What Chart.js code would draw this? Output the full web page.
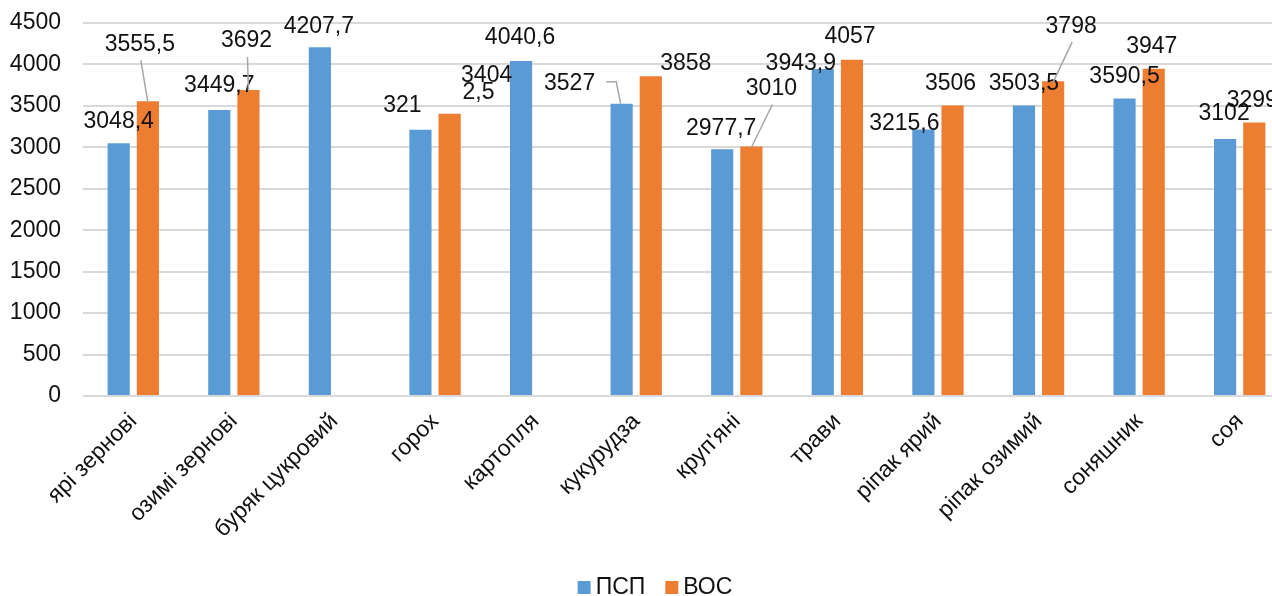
<!DOCTYPE html>
<html>
<head>
<meta charset="utf-8">
<script src="https://cdn.jsdelivr.net/npm/chart.js@4"></script>
<style>
    html, body { margin: 0; padding: 0; background: #fff; overflow: hidden; }
    #wrap { width: 1290px; height: 596px; }
</style>
</head>
<body>
<div id="wrap"><canvas id="grafico"></canvas></div>
<script>
// Datos del gráfico
const categorias = ["ярі зернові", "озимі зернові", "буряк цукровий", "горох", "картопля", "кукурудза",
                    "круп'яні", "трави", "ріпак ярий", "ріпак озимий", "соняшник", "соя"];
const valoresPSP = [3048.4, 3449.7, 4207.7, 3212.5, 4040.6, 3527, 2977.7, 3943.9, 3215.6, 3503.5, 3590.5, 3102];
const valoresVOC = [3555.5, 3692, null, 3404, null, 3858, 3010, 4057, 3506, 3798, 3947, 3299];
const ejeY = { min: 0, max: 4500, paso: 500 };

// Desplazamiento de las etiquetas respecto a la parte alta de cada barra (px)
const posPSP = [[0, -22], [0, -24], [-1, -21], [-18, -24], [-1, -23], [-52, -20],
                [-1, -21], [-22, -5], [-19, -6], [0, -22], [0, -22], [-1, -25]];
const posVOC = [[-8, -57], [-2, -49], null, [37, -38], null, [35, -13],
                [20, -58], [-2, -23], [-2, -22], [18, -55], [-2, -22], [-2, -22]];
// líneas guía: "recta" o "codo"
const guiaPSP = [null, null, null, null, null, "codo", null, null, null, null, null, null];
const guiaVOC = ["recta", "recta", null, null, null, null, "recta", null, null, "recta", null, null];
// la etiqueta de горох (ПСП) aparece partida en dos trozos
const cortePSP = { 3: { en: 3, dx: 58, dy: -37 } };

const fuente = "'Liberation Sans', Arial, sans-serif";
const colorTexto = "#111";
const centroLeyenda = 655;

const formato = v => String(v).replace(".", ",");

const etiquetas = {
    id: "etiquetas",
    afterDatasetsDraw(chart) {
        const ctx = chart.ctx;
        const config = [
            { pos: posPSP, guia: guiaPSP, corte: cortePSP },
            { pos: posVOC, guia: guiaVOC, corte: {} }
        ];
        ctx.save();
        ctx.font = "23px " + fuente;
        ctx.textAlign = "center";
        ctx.textBaseline = "middle";
        chart.data.datasets.forEach((ds, d) => {
            const meta = chart.getDatasetMeta(d);
            const cfg = config[d];
            meta.data.forEach((barra, i) => {
                const v = ds.data[i];
                if (v === null || !cfg.pos[i]) return;
                const tx = barra.x + cfg.pos[i][0];
                const ty = barra.y + cfg.pos[i][1];
                const texto = formato(v);

                //Líneas guía
                ctx.strokeStyle = "#a6a6a6";
                ctx.lineWidth = 1.5;
                if (cfg.guia[i] === "recta") {
                    ctx.beginPath();
                    ctx.moveTo(tx + 1, ty + 16);
                    ctx.lineTo(barra.x, barra.y + 1);
                    ctx.stroke();
                } else if (cfg.guia[i] === "codo") {
                    const ancho = ctx.measureText(texto).width;
                    const x0 = tx + ancho / 2 + 11;
                    ctx.beginPath();
                    ctx.moveTo(x0, ty - 2);
                    ctx.lineTo(x0 + 10, ty - 2);
                    ctx.lineTo(barra.x - 1, barra.y);
                    ctx.stroke();
                }

                ctx.fillStyle = colorTexto;
                const corte = cfg.corte[i];
                if (corte) {
                    ctx.fillText(texto.slice(0, corte.en), tx, ty);
                    ctx.fillText(texto.slice(corte.en), barra.x + corte.dx, barra.y + corte.dy);
                } else {
                    ctx.fillText(texto, tx, ty);
                }
            });
        });
        ctx.restore();
    }
};

// Leyenda dibujada a mano para controlar el espacio entre cuadro y texto
const leyenda = {
    id: "leyenda",
    afterDraw(chart) {
        const ctx = chart.ctx;
        const y = chart.height - 8;
        ctx.save();
        ctx.font = "23px " + fuente;
        ctx.textBaseline = "middle";
        const items = chart.data.datasets.map(ds => ({
            texto: ds.label, color: ds.backgroundColor, ancho: ctx.measureText(ds.label).width
        }));
        const total = items.reduce((s, it) => s + 13 + 5 + it.ancho, 0) + 20 * (items.length - 1);
        let x = centroLeyenda - total / 2;
        items.forEach(it => {
            ctx.fillStyle = it.color;
            ctx.fillRect(x, y - 7, 13, 13);
            ctx.fillStyle = colorTexto;
            ctx.fillText(it.texto, x + 18, y);
            x += 18 + it.ancho + 20;
        });
        ctx.restore();
    }
};

const canvas = document.getElementById("grafico").getContext("2d");
new Chart(canvas, {
    type: "bar",
    data: {
        labels: categorias,
        datasets: [
            {
                label: "ПСП",
                data: valoresPSP,
                backgroundColor: "#5b9bd5",
                categoryPercentage: 0.58,
                barPercentage: 0.76
            },
            {
                label: "ВОС",
                data: valoresVOC,
                backgroundColor: "#ed7d31",
                categoryPercentage: 0.58,
                barPercentage: 0.76
            }
        ]
    },
    options: {
        responsive: true,
        maintainAspectRatio: false,
        animation: false,
        layout: { padding: { top: 23, left: 0, right: 0, bottom: 42 } },
        plugins: {
            tooltip: { enabled: false },
            legend: { display: false }
        },
        scales: {
            x: {
                grid: { display: false, drawTicks: false },
                border: { display: false },
                ticks: {
                    color: colorTexto,
                    font: { family: fuente, size: 23 },
                    minRotation: 45,
                    maxRotation: 45,
                    padding: 12,
                    autoSkip: false
                },
                afterFit: scale => {
                    scale.height = 158;
                    scale.paddingLeft = 0;
                    scale.paddingRight = 0;
                }
            },
            y: {
                min: ejeY.min,
                max: ejeY.max,
                grid: { color: "#d9d9d9", lineWidth: 2, drawTicks: false },
                border: { display: false },
                ticks: {
                    stepSize: ejeY.paso,
                    color: colorTexto,
                    font: { family: fuente, size: 23 },
                    padding: 22,
                    callback: v => String(v)
                },
                afterFit: scale => {
                    scale.width = 83;
                    scale.paddingTop = 0;
                    scale.paddingBottom = 0;
                }
            }
        }
    },
    plugins: [etiquetas, leyenda]
});
</script>
</body>
</html>
